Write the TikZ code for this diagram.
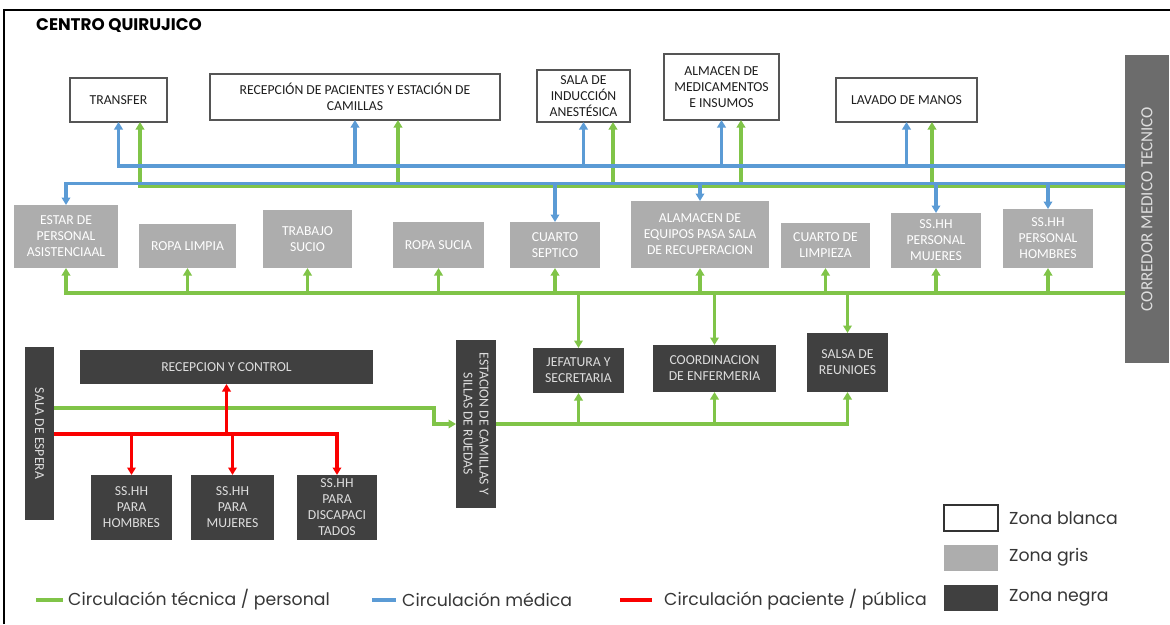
\documentclass[tikz,border=0pt]{standalone}
\usepackage{fontspec}
\setmainfont{Carlito}
\newfontfamily\geo{Poppins}
\usetikzlibrary{arrows.meta}

\definecolor{cgreen}{RGB}{128,196,72}
\definecolor{cblue}{RGB}{91,155,213}
\definecolor{cred}{RGB}{250,0,0}
\definecolor{cgray}{RGB}{173,173,173}
\definecolor{cdark}{RGB}{64,64,64}
\definecolor{ccorr}{RGB}{108,108,108}
\definecolor{cedge}{RGB}{85,85,85}
\definecolor{ctext}{RGB}{30,30,30}
\definecolor{cdtext}{RGB}{222,222,222}
\definecolor{clegend}{RGB}{55,55,55}

\newcommand{\boxfont}{\fontsize{13.7}{16}\selectfont}

\tikzset{
  flow/.style={line width=3.1pt},
  gl/.style={flow, draw=cgreen},
  bl/.style={flow, draw=cblue},
  rl/.style={flow, draw=cred},
  tip/.style={-{Triangle[width=8.5pt,length=7.5pt]}},
  box/.style={inner sep=0pt, outer sep=0pt, align=center, font=\boxfont},
  wbox/.style={box, draw=cedge, line width=1.4pt, fill=white, text=ctext},
  gbox/.style={box, fill=cgray, text=white},
  dbox/.style={box, fill=cdark, text=cdtext},
  vlabel/.style={inner sep=0pt, align=center, font=\boxfont},
  legtext/.style={anchor=west, inner sep=0pt, text=clegend, font=\geo\fontsize{17.3}{19}\selectfont},
}

\begin{document}
\begin{tikzpicture}[x=1pt,y=-1pt]
\useasboundingbox (0,0) rectangle (1170,624);
\fill[white] (0,0) rectangle (1170,624);

% frame
\draw[black, line width=1.5pt] (4,624) -- (4,10) -- (1170,10);

% title
\node[anchor=west, inner sep=0pt, text=black, font=\geo\bfseries\fontsize{16.8}{18}\selectfont] (title) at (36,26) {CENTRO QUIRUJICO};

% white zone
\node[wbox, minimum width=97pt, minimum height=44pt] (transfer) at (118.5,100) {TRANSFER};
\node[wbox, minimum width=290pt, minimum height=46pt] (recep) at (355,97) {RECEPCIÓN DE PACIENTES Y ESTACIÓN DE\\CAMILLAS};
\node[wbox, minimum width=93pt, minimum height=52pt] (sala) at (583.5,96) {SALA DE\\INDUCCIÓN\\ANESTÉSICA};
\node[wbox, minimum width=115pt, minimum height=66pt] (almacen) at (721.5,87) {ALMACEN DE\\MEDICAMENTOS\\E INSUMOS};
\node[wbox, minimum width=141pt, minimum height=44pt] (lavado) at (906.5,100) {LAVADO DE MANOS};

% corridor
\node[box, fill=ccorr, minimum width=44pt, minimum height=308pt] (corridor) at (1147,209) {};
\node[vlabel, rotate=90, text=cdtext, font=\fontsize{17}{19}\selectfont] (corrlabel) at (corridor) {CORREDOR MEDICO TECNICO};

% grey zone
\node[gbox, minimum width=104pt, minimum height=63pt] (estar) at (66,236.5) {ESTAR DE\\PERSONAL\\ASISTENCIAAL};
\node[gbox, minimum width=97pt, minimum height=44pt] (ropal) at (187.5,246) {ROPA LIMPIA};
\node[gbox, minimum width=89pt, minimum height=58pt] (trabajo) at (307.5,239) {TRABAJO\\SUCIO};
\node[gbox, minimum width=91pt, minimum height=46pt] (ropas) at (438.5,245) {ROPA SUCIA};
\node[gbox, minimum width=90pt, minimum height=46pt] (septico) at (555,245) {CUARTO\\SEPTICO};
\node[gbox, minimum width=138pt, minimum height=67pt] (equipos) at (700,234.5) {ALAMACEN DE\\EQUIPOS PASA SALA\\DE RECUPERACION};
\node[gbox, minimum width=89pt, minimum height=45pt] (limpieza) at (825.5,245.5) {CUARTO DE\\LIMPIEZA};
\node[gbox, minimum width=90pt, minimum height=55pt] (hhmuj) at (936,240.5) {SS.HH\\PERSONAL\\MUJERES};
\node[gbox, minimum width=90pt, minimum height=59pt] (hhhom) at (1048,238.5) {SS.HH\\PERSONAL\\HOMBRES};

% black zone
\node[dbox, minimum width=91pt, minimum height=45pt] (jefatura) at (578.5,370.5) {JEFATURA Y\\SECRETARIA};
\node[dbox, minimum width=123pt, minimum height=47pt] (coord) at (714.5,368.5) {COORDINACION\\DE ENFERMERIA};
\node[dbox, minimum width=81pt, minimum height=59pt] (salsa) at (847.5,362.5) {SALSA DE\\REUNIOES};
\node[dbox, minimum width=40pt, minimum height=168pt] (estacion) at (476,424) {};
\node[vlabel, rotate=-90, text=cdtext] (estlabel) at (estacion) {ESTACION DE CAMILLAS Y\\SILLAS DE RUEDAS};
\node[dbox, minimum width=29pt, minimum height=173pt] (espera) at (39.5,433.5) {};
\node[vlabel, rotate=-90, text=cdtext] (esplabel) at (espera) {SALA DE ESPERA};
\node[dbox, minimum width=293pt, minimum height=34pt] (recepcion) at (226.5,367) {RECEPCION Y CONTROL};
\node[dbox, minimum width=81pt, minimum height=65pt] (hh1) at (131.5,507.5) {SS.HH\\PARA\\HOMBRES};
\node[dbox, minimum width=83pt, minimum height=65pt] (hh2) at (232.5,507.5) {SS.HH\\PARA\\MUJERES};
\node[dbox, minimum width=80pt, minimum height=65pt] (hh3) at (337,507.5) {SS.HH\\PARA\\DISCAPACI\\TADOS};

% technical / staff circulation, upper level
\draw[gl,tip] (corridor.west |- 0,186) -| ([xshift=21.5pt]transfer.south);
\draw[gl,tip] ([xshift=43pt]recep.south |- 0,186) -- ([xshift=43pt]recep.south);
\draw[gl,tip] ([xshift=29.5pt]sala.south |- 0,186) -- ([xshift=29.5pt]sala.south);
\draw[gl,tip] ([xshift=19.5pt]almacen.south |- 0,186) -- ([xshift=19.5pt]almacen.south);
\draw[gl,tip] ([xshift=25.5pt]lavado.south |- 0,186) -- ([xshift=25.5pt]lavado.south);

% medical circulation
\draw[bl,tip] (corridor.west |- 0,166) -| (transfer.south);
\draw[bl,tip] (recep.south |- 0,166) -- (recep.south);
\draw[bl,tip] (sala.south |- 0,166) -- (sala.south);
\draw[bl,tip] (almacen.south |- 0,166) -- (almacen.south);
\draw[bl,tip] (lavado.south |- 0,166) -- (lavado.south);

\draw[bl,tip] (corridor.west |- 0,183.5) -| (estar.north);
\draw[bl,tip] (septico.north |- 0,183.5) -- (septico.north);
\draw[bl,tip] (equipos.north |- 0,183.5) -- (equipos.north);
\draw[bl,tip] (hhmuj.north |- 0,183.5) -- (hhmuj.north);
\draw[bl,tip] (hhhom.north |- 0,183.5) -- (hhhom.north);

% technical / staff circulation, grey zone
\draw[gl,tip] (corridor.west |- 0,293) -| (estar.south);
\foreach \n in {ropal,trabajo,ropas,septico,equipos,limpieza,hhmuj,hhhom}
  \draw[gl,tip] (\n.south |- 0,293) -- (\n.south);
\foreach \n in {jefatura,coord,salsa}
  \draw[gl,tip] (\n.north |- 0,293) -- (\n.north);

% technical / staff circulation, black zone
\draw[gl,tip] (espera.east |- 0,408) -- (434,408) -- (434,424) -- (estacion.west);
\draw[gl,tip] (estacion.east) -| (salsa.south);
\draw[gl,tip] (jefatura.south |- 0,424) -- (jefatura.south);
\draw[gl,tip] (coord.south |- 0,424) -- (coord.south);

% patient / public circulation
\draw[rl,tip] (espera.east |- 0,434) -| (hh3.north);
\draw[rl,tip] (hh1.north |- 0,434) -- (hh1.north);
\draw[rl,tip] (hh2.north |- 0,434) -- (hh2.north);
\draw[rl,tip] (recepcion.south |- 0,434) -- (recepcion.south);

% legend: circulation
\draw[gl] (36,600) -- (63,600);
\node[legtext] (lg1) at (68,600) {Circulación técnica / personal};
\draw[bl] (372,600) -- (396,600);
\node[legtext] (lg2) at (402,600) {Circulación médica};
\draw[rl] (620,600) -- (652,600);
\node[legtext] (lg3) at (664,600) {Circulación paciente / pública};

% legend: zones
\node[box, draw=black!80, line width=1.2pt, fill=white, minimum width=54pt, minimum height=26pt] (zb) at (971,518) {};
\node[legtext] (zbt) at (1009,518) {Zona blanca};
\node[box, fill=cgray, minimum width=54pt, minimum height=26pt] (zg) at (971,557.5) {};
\node[legtext] (zgt) at (1009,557.5) {Zona gris};
\node[box, fill=cdark, minimum width=54pt, minimum height=26pt] (zn) at (971,597.5) {};
\node[legtext] (znt) at (1009,597.5) {Zona negra};
\end{tikzpicture}
\end{document}
